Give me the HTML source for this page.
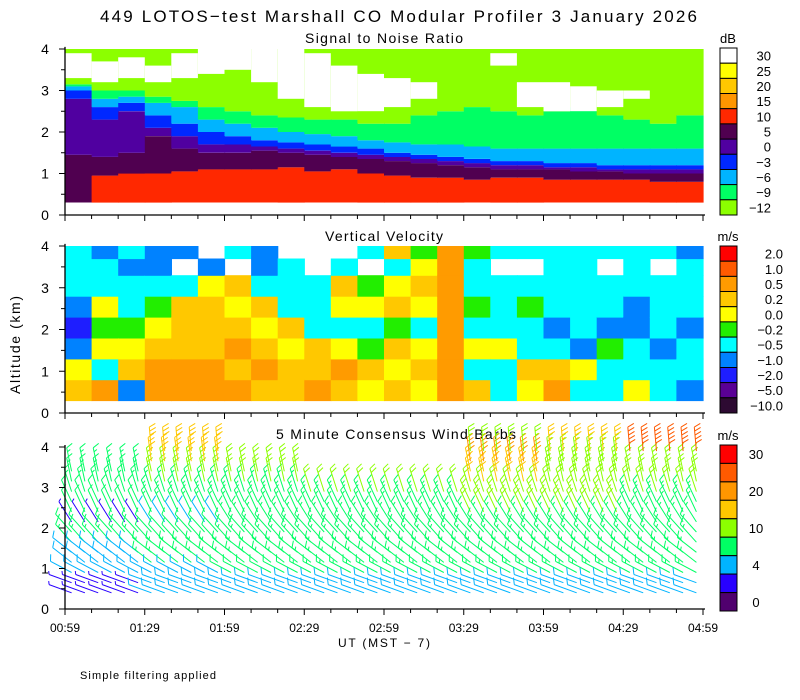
<!DOCTYPE html>
<html><head><meta charset="utf-8">
<style>
html,body{margin:0;padding:0;background:#fff;}
svg{display:block;font-family:"Liberation Sans",sans-serif;}
</style></head>
<body>
<svg id="chart" width="800" height="700" viewBox="0 0 800 700" xmlns="http://www.w3.org/2000/svg">
<text x="100" y="22" font-size="17" textLength="597" lengthAdjust="spacing">449 LOTOS−test Marshall CO Modular Profiler  3 January 2026</text>
<text x="305" y="43" font-size="14" textLength="158" lengthAdjust="spacing">Signal to Noise Ratio</text>
<text x="325" y="241" font-size="14" textLength="118" lengthAdjust="spacing">Vertical Velocity</text>
<text x="276" y="439" font-size="14" textLength="240" lengthAdjust="spacing">5 Minute Consensus Wind Barbs</text>
<text x="20" y="345" font-size="14" text-anchor="middle" textLength="98" lengthAdjust="spacing" transform="rotate(-90 20 345)">Altitude (km)</text>
<text x="338" y="647" font-size="12" textLength="92" lengthAdjust="spacing">UT  (MST − 7)</text>
<text x="80" y="679" font-size="11" textLength="136" lengthAdjust="spacing">Simple filtering applied</text>
<g id="layer-snr"></g>
<g id="layer-vel"></g>
<g id="layer-wind"></g>
<g id="layer-axes"></g>
<g id="layer-cb"></g>
</svg>
<script>
const timeTickLabels = ["00:59","01:29","01:59","02:29","02:59","03:29","03:59","04:29","04:59"];
const yTickLabels = [0,1,2,3,4];
const snrRedTop    = [0.3,0.95,1.0,1.0,1.05,1.1,1.1,1.1,1.15,1.05,1.1,1.0,0.95,0.9,0.9,0.85,0.9,0.9,0.85,0.85,0.85,0.85,0.8,0.8];
const snrDarkTop   = [1.45,1.4,1.5,1.9,1.6,1.5,1.5,1.55,1.5,1.45,1.4,1.35,1.3,1.25,1.2,1.15,1.1,1.1,1.1,1.05,1.05,1.0,1.0,1.0];
const snrPurpleTop = [2.8,2.3,2.5,2.1,1.9,1.7,1.7,1.65,1.6,1.55,1.5,1.45,1.4,1.35,1.3,1.25,1.2,1.2,1.15,1.15,1.1,1.1,1.1,1.1];
const snrBlueTop   = [3.0,2.6,2.7,2.4,2.2,2.0,1.9,1.8,1.75,1.7,1.65,1.6,1.5,1.45,1.4,1.35,1.3,1.3,1.25,1.25,1.2,1.2,1.2,1.2];
const snrCyanTop   = [3.1,2.8,2.85,2.7,2.6,2.3,2.2,2.1,2.0,1.95,1.9,1.8,1.75,1.7,1.7,1.65,1.6,1.6,1.6,1.6,1.6,1.6,1.6,1.6];
const snrGreenTop  = [3.15,3.0,3.0,2.85,2.75,2.6,2.5,2.4,2.35,2.3,2.3,2.2,2.2,2.4,2.5,2.6,2.5,2.4,2.5,2.6,2.4,2.3,2.2,2.4];
const snrWhiteBot  = [3.3,3.2,3.3,3.2,3.3,3.4,3.5,3.2,2.8,2.6,2.5,2.5,2.6,2.8,4.1,4.1,3.6,2.6,2.5,2.5,2.6,2.8,4.1,4.1];
const snrWhiteTop  = [3.9,3.7,3.8,3.6,3.9,4.0,4.0,4.0,4.0,3.9,3.6,3.4,3.3,3.2,4.1,4.1,3.9,3.2,3.2,3.1,3.0,3.0,4.1,4.1];
const snrLabels = ["30","25","20","15","10","5","0","−3","−6","−9","−12"];
const velRowEdges = [0.3,0.8,1.3,1.8,2.3,2.8,3.3,3.7,4.0];
const velValues = [
 [0.3,0.1,-0.6,-1.5,-0.6,-0.3,-0.4,-0.4],
 [0.6,-0.3,0.1,-0.1,0.1,-0.3,-0.4,-0.6],
 [-0.6,0.3,0.1,-0.1,-0.3,-0.4,-0.6,-0.3],
 [0.6,0.6,0.3,0.1,-0.1,-0.3,-0.7,-0.7],
 [0.8,0.6,0.4,0.3,0.2,-0.3,null,-0.7],
 [0.6,0.5,0.3,0.4,0.3,0.1,-0.6,null],
 [0.7,0.3,0.6,0.3,0.1,0.3,null,-0.4],
 [0.3,0.6,0.3,0.1,0.3,-0.4,-0.6,-0.6],
 [0.4,0.3,0.1,0.3,-0.3,-0.4,-0.4,null],
 [0.6,0.3,0.3,-0.3,-0.4,-0.4,null,null],
 [0.3,0.6,0.1,-0.3,0.1,0.3,-0.3,null],
 [0.1,0.3,-0.1,-0.4,0.1,-0.1,null,-0.3],
 [0.3,0.1,0.3,-0.1,0.3,0.1,-0.3,0.3],
 [0.1,0.3,0.1,-0.3,0.1,0.3,0.1,-0.1],
 [0.6,0.6,0.6,0.6,0.6,0.7,0.6,0.6],
 [0.3,-0.4,0.1,-0.3,-0.1,-0.3,-0.4,-0.1],
 [-0.4,-0.3,0.1,-0.4,-0.3,-0.4,null,-0.4],
 [0.1,0.3,-0.3,-0.4,-0.1,-0.4,null,-0.4],
 [0.6,0.3,-0.4,-0.6,-0.4,-0.3,-0.4,-0.4],
 [-0.4,0.1,-0.6,-0.4,-0.3,-0.4,-0.4,-0.4],
 [-0.3,-0.4,-0.1,-0.6,-0.4,-0.4,null,-0.4],
 [0.1,-0.4,-0.3,-0.6,-0.7,-0.4,-0.4,-0.3],
 [-0.4,-0.3,-0.6,-0.4,-0.3,-0.4,null,-0.4],
 [-0.6,-0.3,-0.4,-0.7,-0.4,-0.3,-0.4,-0.6]
];
const velThresholds = [-5,-2,-1,-0.5,-0.2,0,0.2,0.5,1,2];
const velLabels = ["2.0","1.0","0.5","0.2","0.0","−0.2","−0.5","−1.0","−2.0","−5.0","−10.0"];
const windSpeed = [
 [3,5,6,8,3,7,8,9,null,null],
 [5,6,8,7,6,8,9,11,18,16],
 [5,7,8,8,8,8,9,10,null,null],
 [5,8,8,8,8,9,10,null,null,null],
 [5,8,9,9,9,9,10,null,null,null],
 [5,8,9,9,9,10,12,15,20,14],
 [5,8,9,9,9,10,12,14,13,18],
 [6,8,9,9,9,9,11,12,null,25]
];
const windDir = [290,298,308,318,328,335,342,348,352,355];
const windThresholds = [2,4,7,10,15,20,25,30];
const windLabels = ["30","20","10","4","0"];

const NS = 'http://www.w3.org/2000/svg';
function mk(tag, attrs, parent){
  const e = document.createElementNS(NS, tag);
  for (const k in attrs) e.setAttribute(k, attrs[k]);
  parent.appendChild(e);
  return e;
}
const X0 = 65, X1 = 703, TSPAN = 240;
function xs(t){ return X0 + t*(X1-X0)/TSPAN; }
function y1(h){ return 215 - h*41.5; }
function y2(h){ return 413 - h*41.75; }
function y3(h){ return 609 - h*40.5; }

const snrColors = ['#ffffff','#ffff00','#ffc800','#ff9600','#ff2800','#500050','#5000a0','#0028ff','#00b4ff','#00ff64','#8cff00'];
const velColors = ['#2d0a32','#5a0096','#1e1eff','#0082ff','#00ffff','#22ee00','#ffff00','#ffc800','#ff9b00','#ff5a00','#ff0000'];
const windColors = ['#50006e','#2800ff','#00b4ff','#00ff64','#8cff00','#ffc800','#ff9600','#ff5a00','#ff0000'];

const gS = document.getElementById('layer-snr');
const ncol = snrRedTop.length;
for (let c=0;c<ncol;c++){
  const xa = xs(c*TSPAN/ncol), xb = xs((c+1)*TSPAN/ncol);
  const bounds = [0.3, snrRedTop[c], snrDarkTop[c], snrPurpleTop[c], snrBlueTop[c], snrCyanTop[c], snrGreenTop[c], 4.0];
  const cols = [snrColors[4], snrColors[5], snrColors[6], snrColors[7], snrColors[8], snrColors[9], snrColors[10]];
  for (let i=0;i<cols.length;i++){
    const lo = Math.min(bounds[i],4.0), hi = Math.min(Math.max(bounds[i+1],lo),4.0);
    if (hi<=lo) continue;
    const r = mk('rect',{x:xa.toFixed(1), y:y1(hi).toFixed(1), width:(xb-xa+0.6).toFixed(1), height:(y1(lo)-y1(hi)).toFixed(1), fill:cols[i]}, gS);
    
    
  }
  if (snrWhiteBot[c] < 4.0){
    const hi = Math.min(snrWhiteTop[c],4.0);
    const r = mk('rect',{x:xa.toFixed(1), y:y1(hi).toFixed(1), width:(xb-xa+0.6).toFixed(1), height:(y1(snrWhiteBot[c])-y1(hi)).toFixed(1), fill:'#ffffff'}, gS);
    
    
  }
}

const gV = document.getElementById('layer-vel');
function velColor(v){ let k=0; for (const t of velThresholds) if (v>=t) k++; return velColors[k]; }
for (let c=0;c<velValues.length;c++){
  const xa = xs(c*TSPAN/velValues.length), xb = xs((c+1)*TSPAN/velValues.length);
  for (let r=0;r<velValues[c].length;r++){
    const v = velValues[c][r];
    if (v===null) continue;
    const cell = mk('rect',{x:xa.toFixed(1), y:y2(velRowEdges[r+1]).toFixed(1), width:(xb-xa+0.6).toFixed(1), height:(y2(velRowEdges[r])-y2(velRowEdges[r+1])+0.6).toFixed(1), fill:velColor(v)}, gV);
    
    
  }
}

const gW = document.getElementById('layer-wind');
function windColor(s){ let k=0; for (const t of windThresholds) if (s>=t) k++; return windColors[k]; }
const nBarbCols = 48;
for (let i=0;i<nBarbCols;i++){
  const t = (i+0.5)*TSPAN/nBarbCols;
  const blk = Math.min(windSpeed.length-1, Math.floor(t/30));
  for (let h=0.4; h<=4.01; h+=0.25){
    const band = Math.max(0, Math.min(9, Math.floor((h-0.3)/0.4)));
    const s = windSpeed[blk][band];
    if (s===null) continue;
    const th = windDir[band]*Math.PI/180;
    const ux = Math.sin(th), uy = -Math.cos(th);
    const px = -uy, py = ux;
    const L = 24;
    const sx = xs(t), sy = y3(h);
    const tx = sx+ux*L, ty = sy+uy*L;
    const col = windColor(s);
    const g = mk('g',{stroke:col,'stroke-width':1,fill:'none'}, gW);
    
    
    let d = 'M'+sx.toFixed(1)+' '+sy.toFixed(1)+'L'+tx.toFixed(1)+' '+ty.toFixed(1);
    const full = Math.floor(s/5), half = (s%5)>=2.5 ? 1 : 0;
    let k=0;
    for (let f=0; f<full; f++,k++){
      const bx = tx-ux*k*4, by = ty-uy*k*4;
      d += 'M'+bx.toFixed(1)+' '+by.toFixed(1)+'l'+((px*0.9+ux*0.45)*7).toFixed(1)+' '+((py*0.9+uy*0.45)*7).toFixed(1);
    }
    if (half){
      const bx = tx-ux*k*4, by = ty-uy*k*4;
      d += 'M'+bx.toFixed(1)+' '+by.toFixed(1)+'l'+((px*0.9+ux*0.45)*3.5).toFixed(1)+' '+((py*0.9+uy*0.45)*3.5).toFixed(1);
    }
    const p = mk('path',{d:d}, g);
    
    
  }
}

const gA = document.getElementById('layer-axes');
const panels = [{yf:y1, base:215, name:'snr'},{yf:y2, base:413, name:'velocity'},{yf:y3, base:609, name:'wind'}];
panels.forEach((P)=>{
  const yl = mk('line',{x1:X0, y1:P.yf(4.05), x2:X0, y2:P.base, stroke:'#000','stroke-width':1.3}, gA);
  
  
  const xl = mk('line',{x1:X0, y1:P.base, x2:X1+2, y2:P.base, stroke:'#000','stroke-width':1.3}, gA);
  
  
  for (let m=0;m<=24;m++){
    const x = xs(m*10);
    const major = (m%3===0);
    const tk = mk('line',{x1:x, y1:P.base, x2:x, y2:P.base+(major?6:4), stroke:'#000','stroke-width':1}, gA);
    
    
  }
  for (let hh=0; hh<=8; hh++){
    const h = hh/2, y = P.yf(h);
    const major = (hh%2===0);
    const tk = mk('line',{x1:X0-(major?6:4), y1:y, x2:X0, y2:y, stroke:'#000','stroke-width':1}, gA);
    
    
  }
  yTickLabels.forEach(v=>{
    const tl = mk('text',{x:X0-20, y:P.yf(v)+5, 'font-size':14, 'text-anchor':'middle'}, gA);
    tl.textContent = v;
    
    
  });
});
timeTickLabels.forEach((lab,i)=>{
  const tl = mk('text',{x:xs(i*30), y:632, 'font-size':12, 'text-anchor':'middle'}, gA);
  tl.textContent = lab;
  
  
});

const gC = document.getElementById('layer-cb');
function colorbar(top, bottom, colorsTopDown, labels, labelIdx, unit, anchor, lx, name){
  const n = colorsTopDown.length, hgt = (bottom-top)/n;
  const u = mk('text',{x:728, y:top-5, 'font-size':13, 'text-anchor':'middle'}, gC);
  u.textContent = unit;
  
  
  for (let i=0;i<n;i++){
    const r = mk('rect',{x:720, y:(top+i*hgt).toFixed(1), width:17, height:hgt.toFixed(1), fill:colorsTopDown[i], stroke:'#000','stroke-width':1}, gC);
    
    
  }
  labels.forEach((lab,j)=>{
    const i = labelIdx[j];
    const t = mk('text',{x:lx, y:(top+(i+0.5)*hgt+5).toFixed(1), 'font-size':13, 'text-anchor':anchor}, gC);
    t.textContent = lab;
    
    
  });
}
colorbar(48, 215, snrColors, snrLabels, [0,1,2,3,4,5,6,7,8,9,10], 'dB', 'end', 771, 'snr-colorbar');
colorbar(246, 413, velColors.slice().reverse(), velLabels, [0,1,2,3,4,5,6,7,8,9,10], 'm/s', 'end', 783, 'velocity-colorbar');
colorbar(445, 611, windColors.slice().reverse(), windLabels, [0,2,4,6,8], 'm/s', 'middle', 756, 'wind-colorbar');
</script>
</body></html>
